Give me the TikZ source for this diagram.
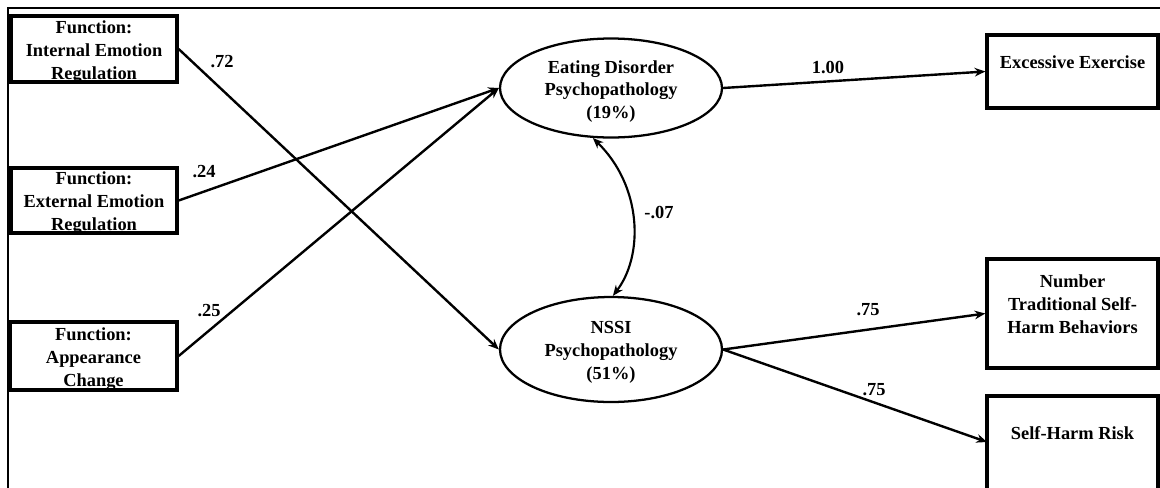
\documentclass[tikz,border=0pt]{standalone}
\usepackage{fontspec}
\setmainfont{Liberation Serif}
\usetikzlibrary{arrows.meta,shapes.geometric}
\begin{document}
\begin{tikzpicture}[x=0.75pt,y=-0.75pt,
  txt/.style={font=\bfseries\fontsize{13.8}{17.2}\selectfont, align=center, inner sep=0pt},
  box/.style={draw, line width=2.5pt, inner sep=0pt},
  lat/.style={draw, ellipse, line width=1.7pt, inner sep=0pt},
  path/.style={line width=1.8pt, -{Stealth[length=8pt,width=6.5pt]}},
  cov/.style={line width=1.6pt, {Stealth[length=8pt,width=6.5pt]}-{Stealth[length=8pt,width=6.5pt]}},
  lab/.style={txt}]
\useasboundingbox (0,0) rectangle (1160,487);
% frame
\draw[line width=1.5pt] (8,500) -- (8,8) -- (1175,8);
% left boxes
\node[box, minimum width=124.5pt, minimum height=49.5pt] (ier) at (94,49) {};
\node[txt] (iertxt) at (94,52) {Function:\\Internal Emotion\\Regulation};
\node[box, minimum width=124.5pt, minimum height=48.75pt] (eer) at (94,200.5) {};
\node[txt] (eertxt) at (94,203.5) {Function:\\External Emotion\\Regulation};
\node[box, minimum width=125.25pt, minimum height=51pt] (ac) at (93.5,356) {};
\node[txt] (actxt) at (93.5,359) {Function:\\Appearance\\Change};
% latent ellipses
\node[lat, minimum width=166.5pt, minimum height=74.25pt] (ed) at (611,88) {};
\node[txt] (edtxt) at (611,91.5) {Eating Disorder\\Psychopathology\\(19\%)};
\node[lat, minimum width=166.5pt, minimum height=78.75pt] (nssi) at (611,349.5) {};
\node[txt] (nssitxt) at (611,352.5) {NSSI\\Psychopathology\\(51\%)};
% right boxes
\node[box, minimum width=128.25pt, minimum height=54.75pt] (ex) at (1072.5,71.5) {};
\node[txt] (extxt) at (1072.5,62) {Excessive Exercise};
\node[box, minimum width=128.25pt, minimum height=81.75pt] (num) at (1072.5,313.5) {};
\node[txt] (numtxt) at (1072.5,304.5) {Number\\Traditional Self-\\Harm Behaviors};
\node[box, minimum width=128.25pt, minimum height=78pt] (shr) at (1072.5,448) {};
\node[txt] (shrtxt) at (1072.5,433) {Self-Harm Risk};
\coordinate (shrin) at (987,442);
% paths
\draw[path] (ier.east) -- (nssi.west);
\draw[path] (eer.east) -- (ed.west);
\draw[path] (ac.east) -- (ed.west);
\draw[path] (ed.east) -- (ex.west);
\draw[path] (nssi.east) -- (num.west);
\draw[path] (nssi.east) -- (shrin);
\draw[cov] (ed.250) .. controls (642,186) and (644,255) .. (nssi.88);
% labels
\node[lab] (l1) at (222,62) {.72};
\node[lab] (l2) at (204,172) {.24};
\node[lab] (l3) at (209,311) {.25};
\node[lab] (l4) at (828,68) {1.00};
\node[lab] (l5) at (868,310) {.75};
\node[lab] (l6) at (874,390) {.75};
\node[lab] (l7) at (659,213) {-.07};
\end{tikzpicture}
\end{document}
